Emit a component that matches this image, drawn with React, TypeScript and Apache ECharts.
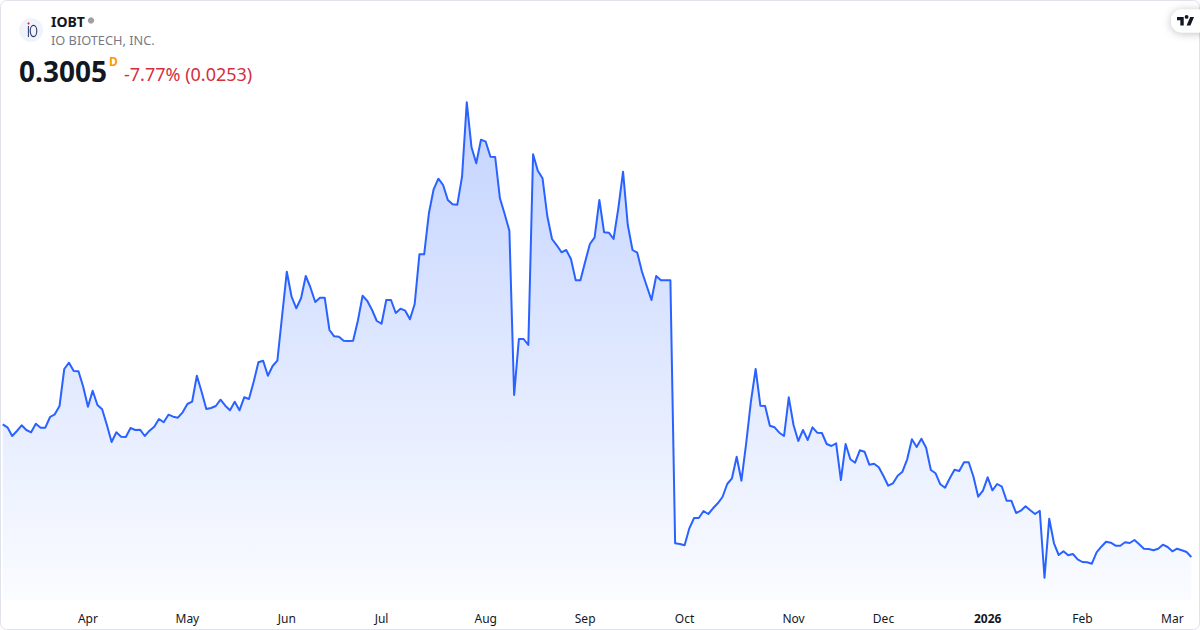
import React, { useEffect, useRef } from "react";
import * as echarts from "echarts";

const closes = [
  0.964, 0.949, 0.9055, 0.9305, 0.959, 0.9355, 0.924, 0.967, 0.947, 0.947, 1.0005, 1.014, 1.0555, 1.2405, 1.272, 1.2305, 1.229, 1.152, 1.052, 1.132,
  1.0605, 1.039, 0.9605, 0.8755, 0.924, 0.902, 0.9005, 0.9455, 0.9355, 0.937, 0.9055, 0.932, 0.952, 0.9905, 0.974, 1.012, 1.002, 0.997, 1.024, 1.0655,
  1.077, 1.207, 1.127, 1.0405, 1.0455, 1.0555, 1.087, 1.057, 1.034, 1.077, 1.034, 1.099, 1.0905, 1.177, 1.274, 1.282, 1.207, 1.2555, 1.282, 1.5055,
  1.727, 1.602, 1.544, 1.594, 1.7055, 1.647, 1.5755, 1.597, 1.597, 1.4355, 1.404, 1.402, 1.382, 1.3805, 1.382, 1.482, 1.607, 1.5805, 1.5355, 1.4805,
  1.467, 1.5855, 1.5855, 1.5205, 1.542, 1.532, 1.489, 1.5655, 1.814, 1.814, 2.019, 2.139, 2.192, 2.1605, 2.0855, 2.064, 2.062, 2.202, 2.574, 2.349,
  2.269, 2.387, 2.377, 2.302, 2.3005, 2.094, 2.0155, 1.932, 1.1105, 1.3905, 1.3905, 1.3605, 2.314, 2.232, 2.194, 2.0055, 1.8905, 1.859, 1.824, 1.8355,
  1.7905, 1.684, 1.684, 1.777, 1.8655, 1.899, 2.0855, 1.924, 1.922, 1.8905, 2.044, 2.227, 1.9605, 1.8355, 1.822, 1.727, 1.6555, 1.5855, 1.7055, 1.684,
  1.684, 1.684, 0.369, 0.3655, 0.359, 0.444, 0.4955, 0.4955, 0.5305, 0.5155, 0.544, 0.569, 0.6005, 0.6655, 0.694, 0.802, 0.682, 0.869, 1.077, 1.2405,
  1.057, 1.0555, 0.957, 0.949, 0.922, 0.9055, 1.099, 0.9605, 0.8805, 0.9355, 0.8855, 0.949, 0.922, 0.9205, 0.8655, 0.8555, 0.869, 0.6855, 0.8655, 0.789,
  0.772, 0.834, 0.827, 0.762, 0.767, 0.749, 0.7055, 0.657, 0.669, 0.707, 0.727, 0.789, 0.889, 0.8505, 0.892, 0.847, 0.7355, 0.719, 0.664, 0.647,
  0.694, 0.737, 0.7305, 0.774, 0.774, 0.702, 0.602, 0.632, 0.699, 0.634, 0.6655, 0.652, 0.582, 0.582, 0.5205, 0.532, 0.554, 0.534, 0.5155, 0.532,
  0.197, 0.492, 0.369, 0.3105, 0.329, 0.309, 0.3155, 0.289, 0.2755, 0.274, 0.267, 0.324, 0.352, 0.377, 0.372, 0.357, 0.357, 0.374, 0.3705, 0.3855,
  0.364, 0.342, 0.3405, 0.334, 0.342, 0.362, 0.3505, 0.329, 0.342, 0.334, 0.3255, 0.3005,
];
const monthLabels = ["Apr", "May", "Jun", "Jul", "Aug", "Sep", "Oct", "Nov", "Dec", "2026", "Feb", "Mar"];
const monthBars = [18, 39, 60, 80, 102, 123, 144, 167, 186, 208, 228, 247];
const categories = closes.map((_, i) => {
  const k = monthBars.indexOf(i);
  return k >= 0 ? monthLabels[k] : String(i);
});

const FONT = "'Noto Sans', sans-serif";
const TV_LOGO = "M14 22H7V11H0V4h14v18zM28 22h-8l7.5-18h8L28 22zM20 8a4 4 0 1 1 0-8 4 4 0 0 1 0 8z";

export default function App() {
  const ref = useRef<HTMLDivElement>(null);
  useEffect(() => {
    document.body.style.margin = "0";
    echarts.graphic.registerShape("tvlogo", echarts.graphic.extendPath(TV_LOGO, {}));
    const chart = echarts.init(ref.current!, undefined, { renderer: "svg", width: 1200, height: 630 });
    chart.setOption({
      animation: false,
      backgroundColor: "#ffffff",
      grid: { left: 2.7, right: 8.7, top: 100, bottom: 30 },
      xAxis: {
        type: "category",
        data: categories,
        boundaryGap: false,
        axisLine: { show: false },
        axisTick: { show: false },
        splitLine: { show: false },
        axisLabel: {
          interval: (i: number) => monthBars.includes(i),
          margin: 12,
          fontFamily: FONT,
          fontSize: 12,
          color: "#131722",
          hideOverlap: false,
          formatter: (v: string) => (v === "2026" ? "{b|2026}" : v),
          rich: { b: { fontWeight: "bold", fontFamily: FONT, fontSize: 12, color: "#131722" } },
        },
      },
      yAxis: { type: "value", min: 0.0855, max: 2.5855, show: false },
      series: [
        {
          type: "line",
          data: closes,
          symbol: "none",
          lineStyle: { color: "#2962FF", width: 2, join: "round" },
          areaStyle: {
            origin: "start",
            opacity: 1,
            color: new echarts.graphic.LinearGradient(0, 0, 0, 1, [
              { offset: 0, color: "rgba(41,98,255,0.28)" },
              { offset: 1, color: "rgba(41,98,255,0.02)" },
            ]),
          },
        },
      ],
      graphic: [
        { type: "rect", z: 10, silent: true, shape: { x: 0.5, y: 0.5, width: 1199, height: 629, r: 6 }, style: { fill: "none", stroke: "#e0e3eb", lineWidth: 1 } },
        { type: "circle", z: 11, shape: { cx: 31, cy: 30, r: 12 }, style: { fill: "#f0f3fa" } },
        { type: "line", z: 12, shape: { x1: 28.4, y1: 26, x2: 28.4, y2: 37 }, style: { stroke: "#27356b", lineWidth: 1 } },
        { type: "ellipse", z: 12, shape: { cx: 33.5, cy: 31, rx: 3.3, ry: 5.6 }, style: { fill: "none", stroke: "#27356b", lineWidth: 1.1 } },
        { type: "circle", z: 12, shape: { cx: 28.5, cy: 23.5, r: 1 }, style: { fill: "#cc2f3c" } },
        { type: "text", z: 11, x: 51, y: 21, style: { text: "IOBT", font: `bold 14px ${FONT}`, fill: "#131722", textAlign: "left", textVerticalAlign: "middle" } },
        { type: "circle", z: 11, shape: { cx: 91, cy: 20.5, r: 3.2 }, style: { fill: "#a0a0a4" } },
        { type: "text", z: 11, x: 51, y: 40, style: { text: "IO BIOTECH, INC.", font: `12.75px ${FONT}`, fill: "#787b86", textAlign: "left", textVerticalAlign: "middle" } },
        { type: "text", z: 11, x: 19, y: 71, style: { text: "0.3005", font: `bold 28px ${FONT}`, fill: "#131722", textAlign: "left", textVerticalAlign: "middle" } },
        { type: "text", z: 11, x: 109, y: 61, style: { text: "D", font: `bold 12px ${FONT}`, fill: "#ff9800", textAlign: "left", textVerticalAlign: "middle" } },
        { type: "text", z: 11, x: 124, y: 74, style: { text: "-7.77% (0.0253)", font: `18px ${FONT}`, fill: "#d32f3f", textAlign: "left", textVerticalAlign: "middle" } },
        { type: "rect", z: 11, shape: { x: 1171, y: 9.5, width: 44, height: 23, r: 11 }, style: { fill: "#ffffff", shadowBlur: 8, shadowColor: "rgba(0,0,0,0.25)", shadowOffsetY: 1 } },
        { type: "tvlogo", z: 12, x: 1177, y: 15, scaleX: 0.48, scaleY: 0.48, style: { fill: "#131722" } },
      ],
    });
    return () => chart.dispose();
  }, []);
  return <div ref={ref} style={{ position: "absolute", left: 0, top: 0, width: 1200, height: 630 }} />;
}
